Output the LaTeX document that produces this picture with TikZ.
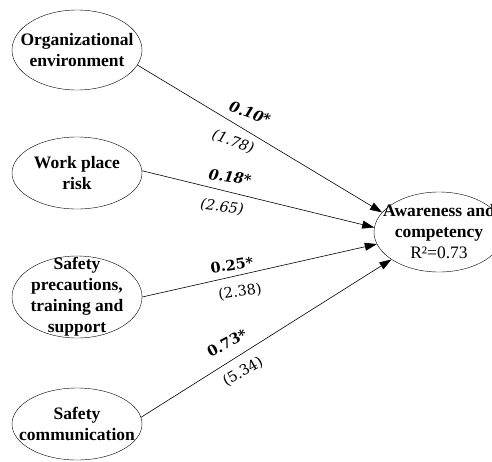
\documentclass[tikz,border=0pt]{standalone}
\usepackage{fontspec}
\setmainfont{Liberation Serif}
\newfontfamily\coeffont{DejaVu Serif}
\usetikzlibrary{shapes.geometric, arrows.meta}

\begin{document}
\begin{tikzpicture}[x=1pt,y=-1pt,
    var/.style={draw, ellipse, inner sep=-15pt, minimum width=130pt, minimum height=78pt,
      align=center, font=\bfseries\fontsize{17.5}{21}\selectfont},
    coef/.style={font=\coeffont\fontsize{14.5}{16}\selectfont, inner sep=0pt},
    path/.style={-{Triangle[length=12pt,width=8pt]}, line width=0.6pt}]
    \useasboundingbox (0,0) rectangle (492,461);

    % exogenous constructs
    \node (org) [var, minimum height=80pt] at (77,50) {Organizational\\environment};
    \node (risk) [var, minimum height=72pt] at (77,173) {Work place\\risk};
    \node (prec) [var, minimum height=82pt] at (77,297) {Safety\\precautions,\\training and\\support};
    \node (comm) [var, minimum height=72pt] at (77,424) {Safety\\communication};
    % endogenous construct
    \node (aware) [var, minimum height=80pt] at (439,232) {Awareness and\\competency\\{\mdseries R²=0.73}};

    \draw[path] (org.-14) -- (aware.161);
    \draw[path] (risk.2) -- (aware.176);
    \draw[path] (prec.0) -- (aware.191);
    \draw[path] (comm.6) -- (aware.210);

    \node (b1) [coef, rotate=-20] at (250,113) {\bfseries\itshape 0.10*};
    \node (t1) [coef, rotate=-20] at (233,142) {\itshape (1.78)};
    \node (b2) [coef, rotate=-8] at (230,177) {\bfseries\itshape 0.18*};
    \node (t2) [coef, rotate=-8] at (222,207) {\itshape (2.65)};
    \node (b3) [coef, rotate=8] at (232,265) {\bfseries 0.25*};
    \node (t3) [coef, rotate=8] at (240,292) {(2.38)};
    \node (b4) [coef, rotate=28] at (227,343) {\bfseries 0.73*};
    \node (t4) [coef, rotate=30] at (243,372) {(5.34)};
\end{tikzpicture}
\end{document}
